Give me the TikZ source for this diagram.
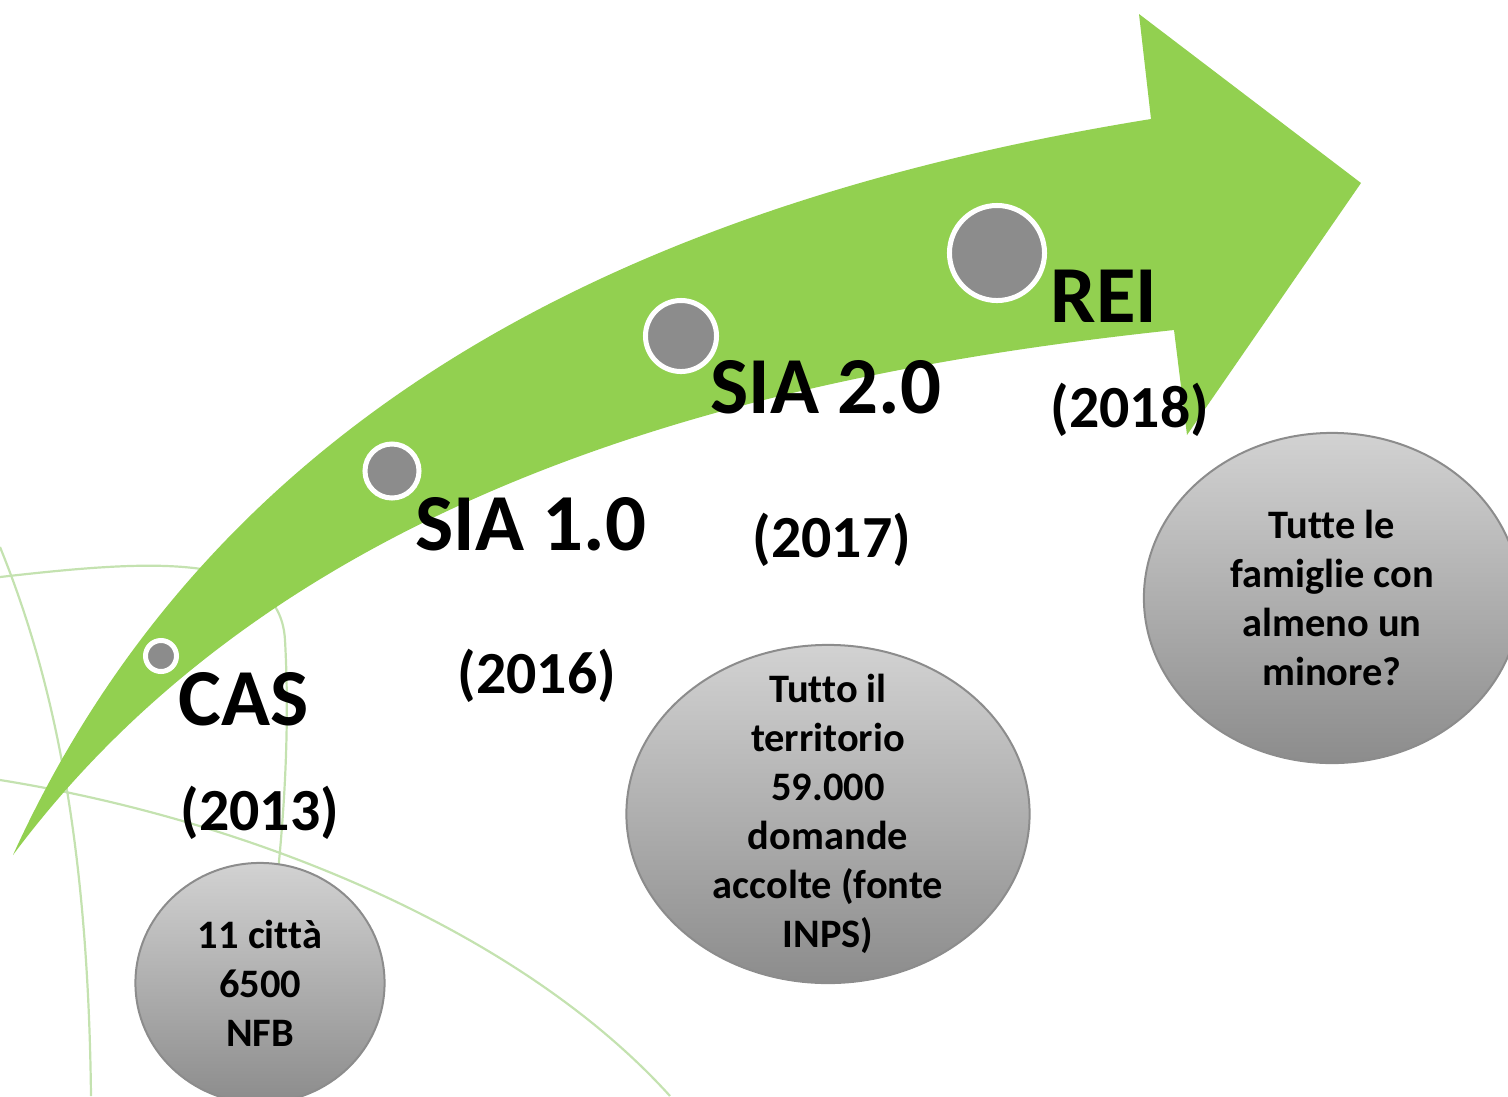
\documentclass[tikz,border=0pt]{standalone}
\usepackage{fontspec}
\setmainfont{Carlito}[Ligatures=NoCommon]
\usetikzlibrary{shapes.geometric}
\definecolor{verde}{HTML}{92D050}
\definecolor{verdino}{HTML}{C4E2B0}
\definecolor{grigio}{HTML}{8C8C8C}
\definecolor{grigiochiaro}{HTML}{D2D2D2}
\begin{document}
\begin{tikzpicture}[line cap=butt,line join=miter,x=0.01cm,y=-0.01cm]
	\tikzset{tappa/.style={inner sep=0pt,anchor=base west,font=\bfseries\fontsize{23}{27}\selectfont},
		anno/.style={inner sep=0pt,anchor=base west,font=\bfseries\fontsize{17}{20}\selectfont},
		bolla/.style={ellipse,draw=grigio,line width=0.02cm,top color=grigiochiaro,bottom color=grigio,inner sep=0pt},
		testo/.style={align=center,inner sep=0pt,font=\bfseries\fontsize{11.5}{13.94}\selectfont},
		punto/.style={circle,fill=grigio,draw=white,line width=0.05cm,inner sep=0pt}}
	\useasboundingbox (0,0) rectangle (1508,1096);
	%--------- Sfondo
	\draw[verdino,line width=0.022cm] (0,577) .. controls (150,560) and (280,550) .. (285,640) .. controls (290,730) and (284,820) .. (275,900);
	\draw[verdino,line width=0.022cm] (0,547) .. controls (50,670) and (88,830) .. (91,1096);
	\draw[verdino,line width=0.022cm] (0,780) .. controls (250,820) and (520,930) .. (670,1096);
	%--------- Freccia
	\fill[verde] (13,855) .. controls (220,400) and (650,200) .. (1151,119) -- (1139,14) -- (1361,183)
		-- (1187,435) -- (1174,330) .. controls (800,370) and (300,470) .. cycle;
	%--------- Tappe
	\node[punto,minimum size=0.31cm] (pCAS) at (161,656) {};
	\node[punto,minimum size=0.54cm] (pSIA1) at (392,471) {};
	\node[punto,minimum size=0.71cm] (pSIA2) at (681,336) {};
	\node[punto,minimum size=0.95cm] (pREI) at (997,253) {};
	\node[tappa] (tCAS) at (178,725) {CAS};
	\node[anno] (aCAS) at (180,830) {(2013)};
	\node[tappa] (tSIA1) at (415,550) {SIA 1.0};
	\node[anno] (aSIA1) at (457,693) {(2016)};
	\node[tappa] (tSIA2) at (710,413) {SIA 2.0};
	\node[anno] (aSIA2) at (752,557) {(2017)};
	\node[tappa] (tREI) at (1050,322) {REI};
	\node[anno] (aREI) at (1050,427) {(2018)};
	%--------- Bolle
	\node[bolla,minimum width=2.49cm,minimum height=2.40cm] (bCAS) at (260,983) {};
	\node[testo] (xCAS) at (bCAS) {11 città\\6500\\NFB};
	\node[bolla,minimum width=4.03cm,minimum height=3.38cm] (bSIA2) at (828,814) {};
	\node[testo] (xSIA2) at (bSIA2) {Tutto il\\territorio\\59.000\\domande\\accolte (fonte\\INPS)};
	\node[bolla,minimum width=3.76cm,minimum height=3.30cm] (bREI) at (1332,598) {};
	\node[testo] (xREI) at (bREI) {Tutte le\\famiglie con\\almeno un\\minore?};
\end{tikzpicture}
\end{document}
